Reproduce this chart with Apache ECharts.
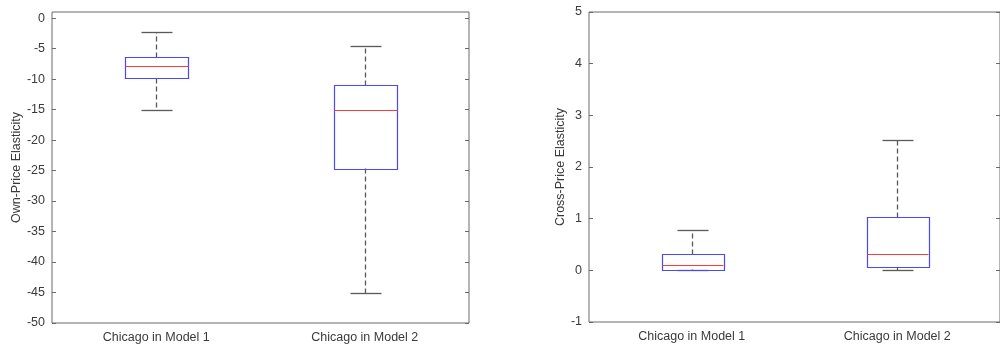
<!DOCTYPE html>
<html>
<head>
<meta charset="utf-8">
<script src="https://cdn.jsdelivr.net/npm/echarts@6/dist/echarts.min.js"></script>
<style>html,body{margin:0;padding:0;background:#fff}#c{width:1000px;height:348px}</style>
</head>
<body>
<div id="c"></div>
<script>
// categories
var categories = ['Chicago in Model 1', 'Chicago in Model 2'];
// box stats: [lower whisker, Q1, median, Q3, upper whisker]
var ownModel1 = [-15.0, -9.9, -7.9, -6.4, -2.3];
var ownModel2 = [-45.1, -24.6, -15.1, -10.9, -4.5];
var crossModel1 = [0.0, 0.02, 0.11, 0.32, 0.79];
var crossModel2 = [0.0, 0.06, 0.31, 1.03, 2.53];
// tick labels
var ownTicks = [-50, -45, -40, -35, -30, -25, -20, -15, -10, -5, 0];
var crossTicks = [-1, 0, 1, 2, 3, 4, 5];

var FONT = 'Liberation Sans';
var AX = '#6a6a6a';
var TXT = '#3a3a3a';

function renderBox(params, api) {
  var c = api.value(0);
  var lo = api.value(1), q1 = api.value(2), md = api.value(3), q3 = api.value(4), hi = api.value(5);
  var band = api.size([1, 0])[0];
  var hw = band * 0.15, cw = band * 0.075;
  var pLo = api.coord([c, lo]), pQ1 = api.coord([c, q1]), pMd = api.coord([c, md]),
      pQ3 = api.coord([c, q3]), pHi = api.coord([c, hi]);
  var x = Math.round(pMd[0]) + 0.5;
  function r(v) { return Math.round(v) + 0.5; }
  var wStyle = { stroke: '#5a5a5a', lineWidth: 1.3, lineDash: [5, 3], fill: null };
  var cStyle = { stroke: '#5a5a5a', lineWidth: 1.3, fill: null };
  return {
    type: 'group',
    children: [
      { type: 'line', shape: { x1: x, y1: r(pQ3[1]), x2: x, y2: r(pHi[1]) }, style: wStyle },
      { type: 'line', shape: { x1: x, y1: r(pQ1[1]), x2: x, y2: r(pLo[1]) }, style: wStyle },
      { type: 'line', shape: { x1: r(x - cw), y1: r(pHi[1]), x2: r(x + cw), y2: r(pHi[1]) }, style: cStyle },
      { type: 'line', shape: { x1: r(x - cw), y1: r(pLo[1]), x2: r(x + cw), y2: r(pLo[1]) }, style: cStyle },
      { type: 'rect', shape: { x: r(x - hw), y: r(pQ3[1]), width: Math.round(2 * hw), height: Math.round(pQ1[1] - pQ3[1]) },
        style: { stroke: '#4848ff', lineWidth: 1.2, fill: null } },
      { type: 'line', shape: { x1: r(x - hw), y1: r(pMd[1]), x2: r(x + hw), y2: r(pMd[1]) },
        style: { stroke: '#ff3a3a', lineWidth: 1.2 } }
    ]
  };
}

function toData(a, b) {
  return [[0].concat(a), [1].concat(b)];
}

function xAxes(gi) {
  return [
    { type: 'category', gridIndex: gi, data: categories, position: 'bottom',
      axisLine: { show: false }, axisTick: { inside: true, alignWithLabel: true, length: 4, lineStyle: { color: AX } },
      axisLabel: { color: TXT, fontFamily: FONT, fontSize: 12.5, margin: 8 }, splitLine: { show: false } },
    { type: 'category', gridIndex: gi, data: categories, position: 'top',
      axisLine: { show: false }, axisTick: { inside: true, alignWithLabel: true, length: 4, lineStyle: { color: AX } },
      axisLabel: { show: false }, splitLine: { show: false } }
  ];
}

function yAxes(gi, min, max, ticks, name, gap) {
  return [
    { type: 'value', gridIndex: gi, min: min, max: max, position: 'left',
      name: name, nameLocation: 'middle', nameGap: gap, nameRotate: 90,
      nameTextStyle: { color: TXT, fontFamily: FONT, fontSize: 12.5 },
      axisLine: { show: false }, splitLine: { show: false },
      axisTick: { show: true, inside: true, length: 4, customValues: ticks, lineStyle: { color: AX } },
      axisLabel: { color: TXT, fontFamily: FONT, fontSize: 12.5, margin: 7, customValues: ticks } },
    { type: 'value', gridIndex: gi, min: min, max: max, position: 'right',
      axisLine: { show: false }, splitLine: { show: false },
      axisTick: { show: true, inside: true, length: 4, customValues: ticks, lineStyle: { color: AX } },
      axisLabel: { show: false } }
  ];
}

var chart = echarts.init(document.getElementById('c'), null, { renderer: 'canvas' });
chart.setOption({
  animation: false,
  backgroundColor: '#ffffff',
  grid: [
    { left: 52, right: 531, top: 12, bottom: 25, show: true, borderColor: AX, borderWidth: 1, backgroundColor: 'transparent' },
    { left: 589, right: -7, top: 12, bottom: 26, show: true, borderColor: AX, borderWidth: 1, backgroundColor: 'transparent' }
  ],
  xAxis: xAxes(0).concat(xAxes(1)),
  yAxis: yAxes(0, -50, 1, ownTicks, 'Own-Price Elasticity', 29).concat(
         yAxes(1, -1, 5, crossTicks, 'Cross-Price Elasticity', 21)),
  series: [
    { type: 'custom', xAxisIndex: 0, yAxisIndex: 0, renderItem: renderBox,
      encode: { x: 0, y: [1, 2, 3, 4, 5] }, data: toData(ownModel1, ownModel2) },
    { type: 'custom', xAxisIndex: 2, yAxisIndex: 2, renderItem: renderBox,
      encode: { x: 0, y: [1, 2, 3, 4, 5] }, data: toData(crossModel1, crossModel2) }
  ]
});
</script>
</body>
</html>
